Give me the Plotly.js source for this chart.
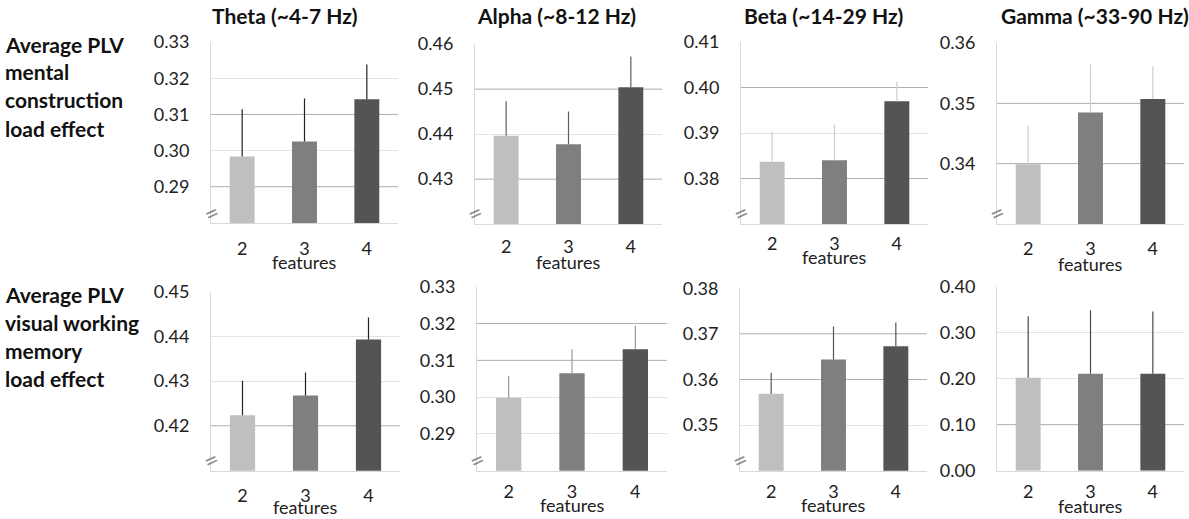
<!DOCTYPE html>
<html>
<head>
<meta charset="utf-8">
<script src="https://cdn.plot.ly/plotly-3.0.1.min.js"></script>
<style>
  html, body { margin: 0; padding: 0; background: #ffffff; }
  #chart { width: 1189px; height: 519px; }
</style>
</head>
<body>
<div id="chart"></div>
<script>
// ---------------- DATA ----------------
const features = ["2", "3", "4"];

const bandTitles = ["Theta (~4-7 Hz)", "Alpha (~8-12 Hz)", "Beta (~14-29 Hz)", "Gamma (~33-90 Hz)"];
const rowLabelsMental = ["Average PLV", "mental", "construction", "load effect"];
const rowLabelsVisual = ["Average PLV", "visual working", "memory", "load effect"];
const xAxisLabel = "features";

// Mental construction load effect (top row)
const thetaMentalMean = [0.2984, 0.3025, 0.3142];
const thetaMentalErr  = [0.0130, 0.0119, 0.0096];
const alphaMentalMean = [0.4396, 0.4377, 0.4504];
const alphaMentalErr  = [0.0077, 0.0073, 0.0068];
const betaMentalMean  = [0.3837, 0.3840, 0.3970];
const betaMentalErr   = [0.0067, 0.0078, 0.0043];
const gammaMentalMean = [0.3399, 0.3485, 0.3507];
const gammaMentalErr  = [0.0064, 0.0080, 0.0055];

// Visual working memory load effect (bottom row)
const thetaVisualMean = [0.4224, 0.4268, 0.4393];
const thetaVisualErr  = [0.0077, 0.0051, 0.0049];
const alphaVisualMean = [0.2998, 0.3065, 0.3130];
const alphaVisualErr  = [0.0059, 0.0065, 0.0064];
const betaVisualMean  = [0.3569, 0.3644, 0.3673];
const betaVisualErr   = [0.0046, 0.0072, 0.0052];
const gammaVisualMean = [0.202, 0.211, 0.211];
const gammaVisualErr  = [0.134, 0.138, 0.135];

// Axis ranges and tick labels
const yRanges = [[0.28, 0.33], [0.42, 0.46], [0.37, 0.41], [0.33, 0.36],
                 [0.41, 0.45], [0.28, 0.33], [0.34, 0.38], [0.00, 0.40]];
const thetaMentalTicks = [0.29, 0.30, 0.31, 0.32, 0.33];
const alphaMentalTicks = [0.43, 0.44, 0.45, 0.46];
const betaMentalTicks  = [0.38, 0.39, 0.40, 0.41];
const gammaMentalTicks = [0.34, 0.35, 0.36];
const thetaVisualTicks = [0.42, 0.43, 0.44, 0.45];
const alphaVisualTicks = [0.29, 0.30, 0.31, 0.32, 0.33];
const betaVisualTicks  = [0.35, 0.36, 0.37, 0.38];
const gammaVisualTicks = [0.00, 0.10, 0.20, 0.30, 0.40];
// gridlines that appear darker in the original
const darkGridValues = [[0.29, 0.31], [0.43, 0.45], [0.38, 0.40], [0.34, 0.35],
                        [0.42], [0.31, 0.32], [0.36, 0.37], [0.10]];

// ---------------- STYLE / LAYOUT ----------------
const W = 1189, H = 519;
const FONT = "Lato, 'Open Sans', sans-serif";
const barColors = ["#bfbfbf", "#7f7f7f", "#545454"];

const means = [thetaMentalMean, alphaMentalMean, betaMentalMean, gammaMentalMean,
               thetaVisualMean, alphaVisualMean, betaVisualMean, gammaVisualMean];
const errs  = [thetaMentalErr, alphaMentalErr, betaMentalErr, gammaMentalErr,
               thetaVisualErr, alphaVisualErr, betaVisualErr, gammaVisualErr];
const ticks = [thetaMentalTicks, alphaMentalTicks, betaMentalTicks, gammaMentalTicks,
               thetaVisualTicks, alphaVisualTicks, betaVisualTicks, gammaVisualTicks];

// pixel boxes of each panel [x0, x1, yTop, yBottom]
const boxes = [
  [211, 398, 42, 223], [475, 662, 44, 224], [741, 928, 42, 224], [997, 1184, 43, 224],
  [211, 400, 291.5, 470.7], [477, 667, 286.7, 470.7], [740, 927, 288.3, 470.7], [997, 1184, 286.7, 470.7]
];
const errColors = ["#222222", "#5f5f5f", "#cfcfcf", "#cfcfcf", "#222222", "#9a9a9a", "#555555", "#4a4a4a"];
const xTickLens = [9, 6, 3, 8, 9, 5, 5, 5];
const featY = [262, 262, 257, 264, 507, 505, 505, 506];
const hasBreak = [true, true, true, true, true, true, true, false];
const titleX = [210, 475, 742, 999];

const traces = [];
const layout = {
  width: W, height: H,
  margin: {l: 0, r: 0, t: 0, b: 0},
  paper_bgcolor: "#ffffff",
  plot_bgcolor: "#ffffff",
  showlegend: false,
  bargap: 0.6,
  font: {family: FONT, color: "#222222"},
  annotations: [],
  shapes: []
};

for (let i = 0; i < 8; i++) {
  const n = i === 0 ? "" : String(i + 1);
  const b = boxes[i];
  traces.push({
    type: "bar",
    x: features,
    y: means[i],
    xaxis: "x" + n,
    yaxis: "y" + n,
    marker: {color: barColors, line: {width: 0}},
    error_y: {
      type: "data", symmetric: false,
      array: errs[i], arrayminus: [0, 0, 0],
      color: errColors[i], thickness: 1.2, width: 0
    },
    hoverinfo: "x+y"
  });
  layout["xaxis" + n] = {
    domain: [b[0] / W, b[1] / W],
    anchor: "y" + n,
    type: "category",
    range: [-0.5, 2.5],
    showgrid: false,
    zeroline: false,
    showline: true, linecolor: "#d9d9d9", linewidth: 1,
    ticks: "outside", ticklen: xTickLens[i], tickcolor: "rgba(0,0,0,0)",
    tickfont: {family: FONT, size: 18, color: "#222222"},
    fixedrange: true
  };
  layout["yaxis" + n] = {
    domain: [1 - b[3] / H, 1 - b[2] / H],
    anchor: "x" + n,
    range: yRanges[i],
    tickmode: "array",
    tickvals: ticks[i],
    ticktext: ticks[i].map(v => v.toFixed(2)),
    showgrid: true, gridcolor: "rgba(0,0,0,0.11)", gridwidth: 1,
    zeroline: false,
    showline: true, linecolor: "#d9d9d9", linewidth: 1,
    ticks: "outside", ticklen: 17, tickcolor: "rgba(0,0,0,0)",
    tickfont: {family: FONT, size: 18, color: "#222222"},
    fixedrange: true
  };
  // darker gridlines
  darkGridValues[i].forEach(v => {
    layout.shapes.push({
      type: "line", layer: "below",
      xref: "x" + n + " domain", x0: 0, x1: 1,
      yref: "y" + n, y0: v, y1: v,
      line: {color: "#c4c4c4", width: 1}
    });
  });
  // "features" label under the middle category
  layout.annotations.push({
    text: xAxisLabel, xref: "x" + n + " domain", x: 0.5, xanchor: "center",
    yref: "paper", y: 1 - featY[i] / H, yanchor: "middle",
    showarrow: false, font: {family: FONT, size: 18, color: "#222222"}
  });
  // axis break marks
  if (hasBreak[i]) {
    layout.annotations.push({
      text: "=", xref: "x" + n + " domain", x: 0, xanchor: "center",
      yref: "y" + n + " domain", y: 0, yanchor: "middle", yshift: 11,
      showarrow: false, textangle: -25,
      font: {family: FONT, size: 24, color: "#8a8a8a"}
    });
  }
}

// band titles
bandTitles.forEach((t, k) => {
  layout.annotations.push({
    text: "<b>" + t + "</b>", xref: "paper", x: titleX[k] / W, xanchor: "left",
    yref: "paper", y: 1 - 16 / H, yanchor: "middle",
    showarrow: false, font: {family: FONT, size: 21, color: "#111111"}
  });
});

// row labels
const rowTopY = [44, 72, 100, 128];
const rowBotY = [294, 322, 350, 378];
rowLabelsMental.forEach((t, k) => {
  layout.annotations.push({
    text: "<b>" + t + "</b>", xref: "paper", x: 3 / W, xanchor: "left",
    yref: "paper", y: 1 - rowTopY[k] / H, yanchor: "middle",
    showarrow: false, font: {family: FONT, size: 21, color: "#111111"}
  });
});
rowLabelsVisual.forEach((t, k) => {
  layout.annotations.push({
    text: "<b>" + t + "</b>", xref: "paper", x: 3 / W, xanchor: "left",
    yref: "paper", y: 1 - rowBotY[k] / H, yanchor: "middle",
    showarrow: false, font: {family: FONT, size: 21, color: "#111111"}
  });
});

Plotly.newPlot("chart", traces, layout, {displayModeBar: false, staticPlot: true});
</script>
</body>
</html>
